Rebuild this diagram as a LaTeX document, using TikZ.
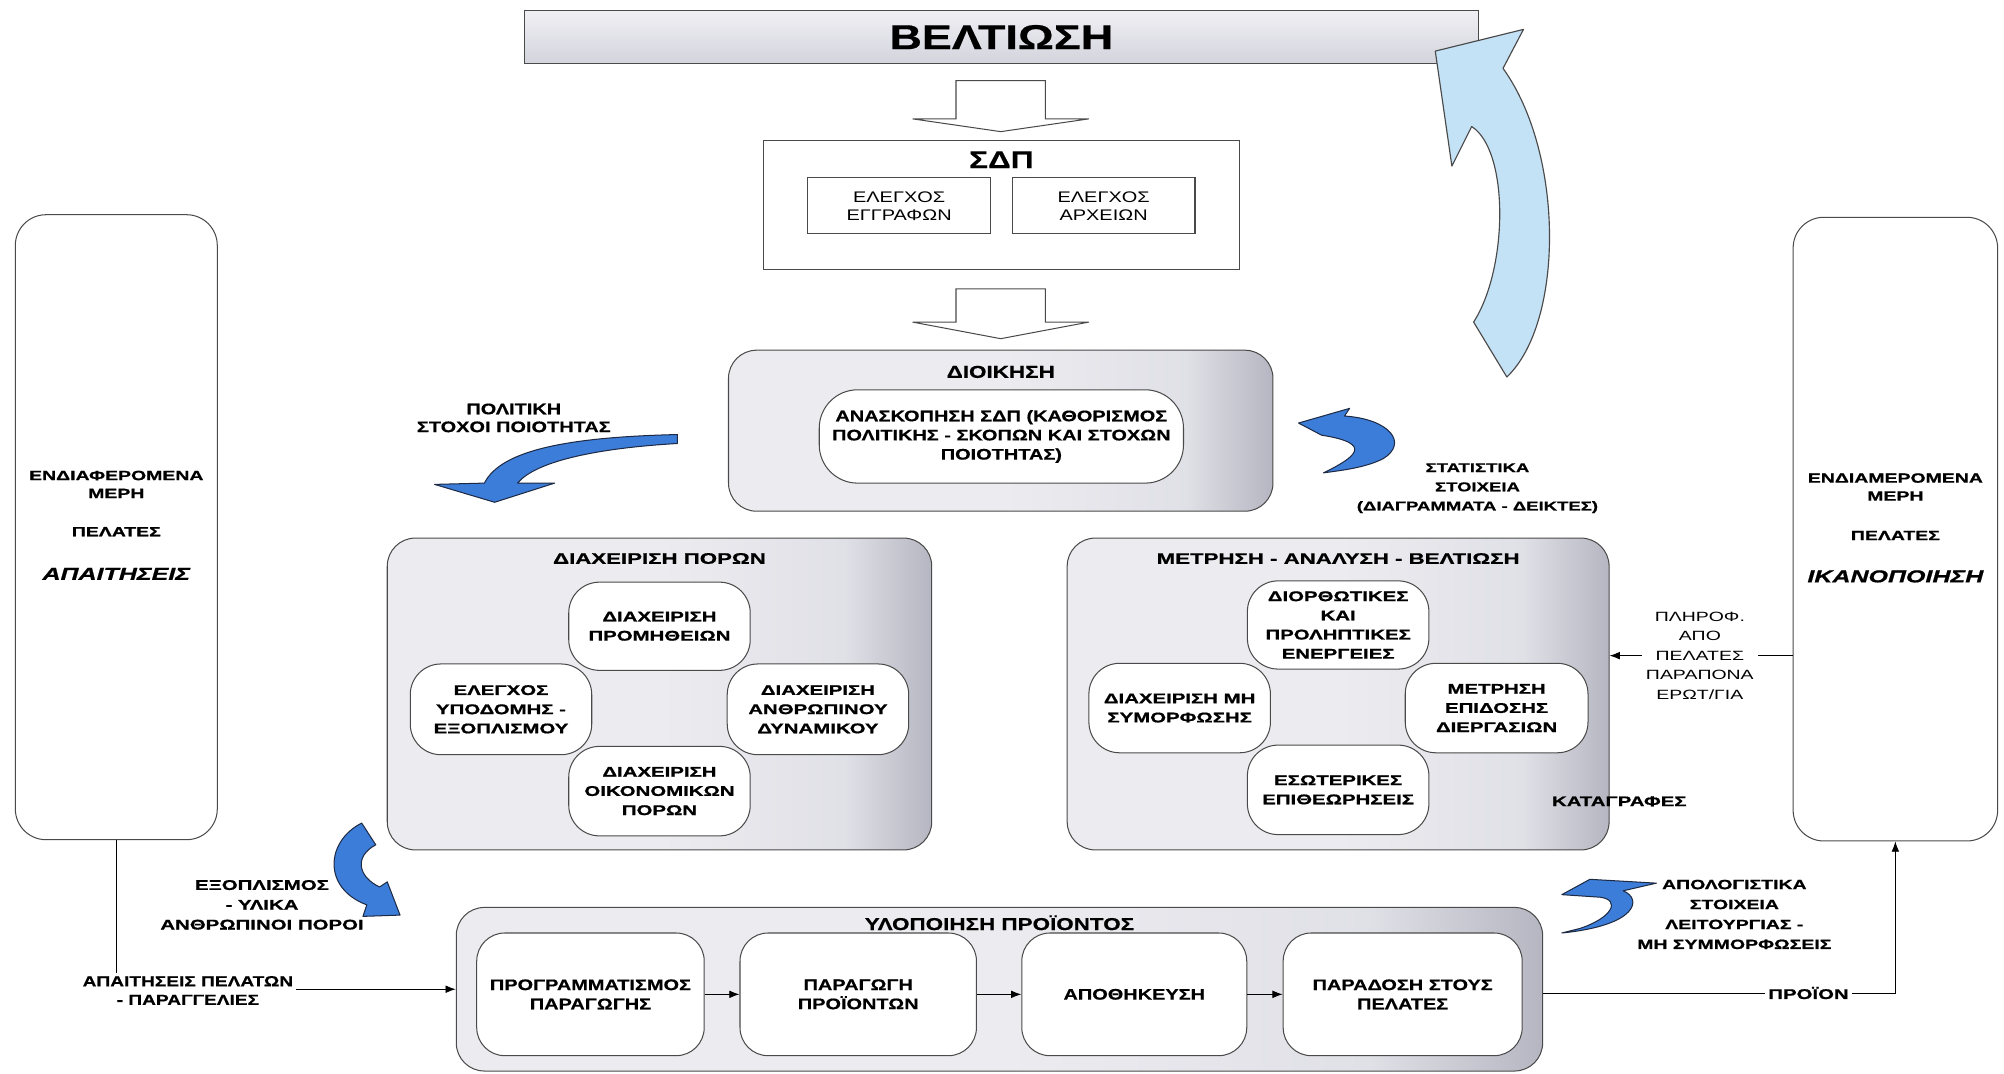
\documentclass[tikz,border=0pt]{standalone}
\usepackage{fontspec}
\setmainfont{Liberation Sans}
\newfontfamily\fnA[FakeStretch=1.3, BoldFeatures={FakeBold=0.5}]{Liberation Sans}
\newfontfamily\fnB[FakeStretch=1.45, BoldFeatures={FakeBold=0.9}, BoldItalicFeatures={FakeBold=0.9}]{Liberation Sans}
\usetikzlibrary{arrows.meta,calc}
\definecolor{edge}{HTML}{4A4A4A}
\definecolor{boxL}{HTML}{ECECF0}
\definecolor{boxM}{HTML}{E0E0E7}
\definecolor{boxR}{HTML}{B6B6C2}
\definecolor{barT}{HTML}{F0F0F4}
\definecolor{barB}{HTML}{D3D3DD}
\definecolor{blueA}{HTML}{3B7DD8}
\definecolor{blueD}{HTML}{1E2A44}
\definecolor{blueL}{HTML}{C4E2F6}
\pgfdeclarehorizontalshading{gshade}{100bp}{color(0bp)=(boxL); color(25bp)=(boxL); color(50bp)=(boxL); color(67bp)=(boxM); color(75bp)=(boxR); color(100bp)=(boxR)}
\begin{document}
\begin{tikzpicture}[x=1pt,y=-1pt,
  ln/.style={draw=edge, line width=0.8pt},
  grbox/.style={ln, rounded corners=22pt, shading=gshade},
  wbox/.style={ln, fill=white, rounded corners=24pt, align=center},
  sqbox/.style={ln, fill=white, align=center},
  fA/.style={font=\fnA\bfseries\fontsize{12}{15}\selectfont, align=center},
  fW/.style={font=\fnB\bfseries\fontsize{11}{15}\selectfont, align=center},
  fWr/.style={font=\fnB\fontsize{10.5}{15.2}\selectfont, align=center},
  conn/.style={draw=black, line width=0.7pt},
  arrowend/.style={-{Latex[length=8pt,width=6pt]}},
  bluearr/.style={draw=blueD, line width=0.8pt, fill=blueA, line join=round},
  hollow/.style={draw=edge, line width=0.8pt, fill=white, line join=miter},
]
\fill[white] (0,0) rectangle (1568,840);
\useasboundingbox (0,0) rectangle (1568,840);

% ---- top bar
\node[ln, top color=barT, bottom color=barB, minimum width=747, minimum height=42,
      font=\fnA\bfseries\fontsize{27}{30}\selectfont] (bar) at (783.5,29) {ΒΕΛΤΙΩΣΗ};

% ---- hollow arrows
\draw[hollow] (748,63) -- (818,63) -- (818,93) -- (852,93) -- (783,103) -- (714,93) -- (748,93) -- cycle;
\draw[hollow] (748,226) -- (818,226) -- (818,252) -- (852,252) -- (783,265) -- (714,252) -- (748,252) -- cycle;

% ---- SDP
\node[sqbox, minimum width=373, minimum height=101] (sdp) at (783.5,160.5) {};
\node[font=\fnA\bfseries\fontsize{19}{20}\selectfont] (sdpt) at (783.5,125) {ΣΔΠ};
\node[sqbox, minimum width=143, minimum height=44, font=\fnA\fontsize{12}{14}\selectfont] (e1) at (703.5,161) {ΕΛΕΓΧΟΣ\\ΕΓΓΡΑΦΩΝ};
\node[sqbox, minimum width=143, minimum height=44, font=\fnA\fontsize{12}{14}\selectfont] (e2) at (863.5,161) {ΕΛΕΓΧΟΣ\\ΑΡΧΕΙΩΝ};

% ---- management
\node[grbox, minimum width=426, minimum height=126] (dioik) at (783,337) {};
\node[fA, font=\fnA\bfseries\fontsize{13.5}{15}\selectfont] (dioikt) at (783,291) {ΔΙΟΙΚΗΣΗ};
\node[wbox, fA, minimum width=285, minimum height=73, rounded corners=30pt] (anask) at (783.5,341.5)
  {ΑΝΑΣΚΟΠΗΣΗ ΣΔΠ (ΚΑΘΟΡΙΣΜΟΣ\\ΠΟΛΙΤΙΚΗΣ - ΣΚΟΠΩΝ ΚΑΙ ΣΤΟΧΩΝ\\ΠΟΙΟΤΗΤΑΣ)};

% ---- resources
\node[grbox, minimum width=426, minimum height=244] (res) at (516,543) {};
\node[fW, font=\fnB\bfseries\fontsize{12}{15}\selectfont] (rest) at (516,437) {ΔΙΑΧΕΙΡΙΣΗ ΠΟΡΩΝ};
\node[wbox, fW, minimum width=142, minimum height=69] (r1) at (516,490) {ΔΙΑΧΕΙΡΙΣΗ\\ΠΡΟΜΗΘΕΙΩΝ};
\node[wbox, fW, minimum width=142, minimum height=71] (r2) at (392,555) {ΕΛΕΓΧΟΣ\\ΥΠΟΔΟΜΗΣ -\\ΕΞΟΠΛΙΣΜΟΥ};
\node[wbox, fW, minimum width=142, minimum height=71] (r3) at (640,555) {ΔΙΑΧΕΙΡΙΣΗ\\ΑΝΘΡΩΠΙΝΟΥ\\ΔΥΝΑΜΙΚΟΥ};
\node[wbox, fW, minimum width=142, minimum height=70] (r4) at (516,619) {ΔΙΑΧΕΙΡΙΣΗ\\ΟΙΚΟΝΟΜΙΚΩΝ\\ΠΟΡΩΝ};

% ---- measurement
\node[grbox, minimum width=424, minimum height=244] (meas) at (1047,543) {};
\node[fW, font=\fnB\bfseries\fontsize{12}{15}\selectfont] (meast) at (1047,437) {ΜΕΤΡΗΣΗ - ΑΝΑΛΥΣΗ - ΒΕΛΤΙΩΣΗ};
\node[wbox, fW, minimum width=142, minimum height=69] (m1) at (1047,489) {ΔΙΟΡΘΩΤΙΚΕΣ\\ΚΑΙ\\ΠΡΟΛΗΠΤΙΚΕΣ\\ΕΝΕΡΓΕΙΕΣ};
\node[wbox, fW, minimum width=142, minimum height=70] (m2) at (923,554) {ΔΙΑΧΕΙΡΙΣΗ ΜΗ\\ΣΥΜΟΡΦΩΣΗΣ};
\node[wbox, fW, minimum width=143, minimum height=70] (m3) at (1171,554) {ΜΕΤΡΗΣΗ\\ΕΠΙΔΟΣΗΣ\\ΔΙΕΡΓΑΣΙΩΝ};
\node[wbox, fW, minimum width=142, minimum height=70] (m4) at (1047,618) {ΕΣΩΤΕΡΙΚΕΣ\\ΕΠΙΘΕΩΡΗΣΕΙΣ};

% ---- production
\node[grbox, minimum width=850, minimum height=128] (prod) at (782,774) {};
\node[fA, font=\fnA\bfseries\fontsize{13.5}{15}\selectfont] (prodt) at (782,722) {ΥΛΟΠΟΙΗΣΗ ΠΡΟΪΟΝΤΟΣ};
\node[wbox, fA, minimum width=178, minimum height=96, rounded corners=22pt] (p1) at (462,778) {ΠΡΟΓΡΑΜΜΑΤΙΣΜΟΣ\\ΠΑΡΑΓΩΓΗΣ};
\node[wbox, fA, minimum width=185, minimum height=96, rounded corners=22pt] (p2) at (671.5,778) {ΠΑΡΑΓΩΓΗ\\ΠΡΟΪΟΝΤΩΝ};
\node[wbox, fA, minimum width=176, minimum height=96, rounded corners=22pt] (p3) at (887.5,778) {ΑΠΟΘΗΚΕΥΣΗ};
\node[wbox, fA, minimum width=187, minimum height=96, rounded corners=22pt] (p4) at (1097.5,778) {ΠΑΡΑΔΟΣΗ ΣΤΟΥΣ\\ΠΕΛΑΤΕΣ};

% ---- side boxes
\node[ln, fill=white, rounded corners=24pt, minimum width=158, minimum height=489] (lbox) at (91,412.5) {};
\node[fW, font=\fnB\bfseries\fontsize{10.5}{14}\selectfont] (lt1) at (91,379) {ΕΝΔΙΑΦΕΡΟΜΕΝΑ\\ΜΕΡΗ};
\node[fW, font=\fnB\bfseries\fontsize{10.5}{14}\selectfont] (lt2) at (91,416) {ΠΕΛΑΤΕΣ};
\node[font=\fnB\bfseries\itshape\fontsize{13.5}{15}\selectfont] (lt3) at (91,449) {ΑΠΑΙΤΗΣΕΙΣ};

\node[ln, fill=white, rounded corners=24pt, minimum width=160, minimum height=488] (rbox) at (1483,414) {};
\node[fW, font=\fnB\bfseries\fontsize{10.5}{14}\selectfont] (rt1) at (1483,381) {ΕΝΔΙΑΜΕΡΟΜΕΝΑ\\ΜΕΡΗ};
\node[fW, font=\fnB\bfseries\fontsize{10.5}{14}\selectfont] (rt2) at (1483,419) {ΠΕΛΑΤΕΣ};
\node[font=\fnB\bfseries\itshape\fontsize{13.5}{15}\selectfont] (rt3) at (1483,451) {ΙΚΑΝΟΠΟΙΗΣΗ};

% ---- labels
\node[fA, font=\fnA\bfseries\fontsize{12}{14}\selectfont] (pol) at (402,327) {ΠΟΛΙΤΙΚΗ\\ΣΤΟΧΟΙ ΠΟΙΟΤΗΤΑΣ};
\node[fW, font=\fnB\bfseries\fontsize{10}{15}\selectfont] (stat) at (1156,382) {ΣΤΑΤΙΣΤΙΚΑ\\ΣΤΟΙΧΕΙΑ\\(ΔΙΑΓΡΑΜΜΑΤΑ - ΔΕΙΚΤΕΣ)};
\node[fWr, fill=white, inner sep=3pt] (plir) at (1330,513) {ΠΛΗΡΟΦ.\\ΑΠΟ\\ΠΕΛΑΤΕΣ\\ΠΑΡΑΠΟΝΑ\\ΕΡΩΤ/ΓΙΑ};
\node[fW] (katag) at (1267,627) {ΚΑΤΑΓΡΑΦΕΣ};
\node[fW, font=\fnB\bfseries\fontsize{11}{15.5}\selectfont] (exop) at (205,708) {ΕΞΟΠΛΙΣΜΟΣ\\- ΥΛΙΚΑ\\ΑΝΘΡΩΠΙΝΟΙ ΠΟΡΟΙ};
\node[fA, font=\fnA\bfseries\fontsize{11.5}{14.5}\selectfont, inner sep=2pt] (apait) at (147,775) {ΑΠΑΙΤΗΣΕΙΣ ΠΕΛΑΤΩΝ\\- ΠΑΡΑΓΓΕΛΙΕΣ};
\node[fW, font=\fnB\bfseries\fontsize{10.5}{15.6}\selectfont] (apolog) at (1357,715.5) {ΑΠΟΛΟΓΙΣΤΙΚΑ\\ΣΤΟΙΧΕΙΑ\\ΛΕΙΤΟΥΡΓΙΑΣ -\\ΜΗ ΣΥΜΜΟΡΦΩΣΕΙΣ};
\node[fW, inner sep=2pt] (proion) at (1415,777) {ΠΡΟΪΟΝ};

% ---- connectors
\draw[conn] (lbox.south) -- (lbox.south |- apait.north);
\draw[conn, arrowend] (apait.east |- prod.west) -- (prod.west);
\draw[conn, arrowend] (p1.east) -- (p2.west);
\draw[conn, arrowend] (p2.east) -- (p3.west);
\draw[conn, arrowend] (p3.east) -- (p4.west);
\draw[conn] (prod.east |- proion.west) -- (proion.west);
\draw[conn, arrowend] (proion.east) -| (rbox.south);
\draw[conn] (rbox.west |- plir) -- (plir.east);
\draw[conn, arrowend] (plir.west) -- (plir.west -| meas.east);

% ---- blue curved arrows
\draw[bluearr] (530,340) .. controls (445,342) and (392,352) .. (379,378) -- (340,379) -- (387,393) -- (434,378) -- (405,378) .. controls (418,362) and (462,351) .. (530,347) -- cycle;
\draw[bluearr] (1016,331) -- (1056,319.5) -- (1052,325.5) .. controls (1088,328) and (1102,347) .. (1082,359) .. controls (1068,366) and (1050,368) .. (1035.5,370) .. controls (1060,358) and (1076,347) .. (1034,340.5) -- cycle;
\draw[bluearr] (283,644) .. controls (255,658) and (252,695) .. (287,708) -- (284,717) -- (313,716) -- (303,690) -- (297,694) .. controls (280,686) and (277,670) .. (294,661) -- cycle;
\draw[bluearr] (1222,700) -- (1244,688) -- (1296,691) -- (1270,697) .. controls (1285,703) and (1282,724) .. (1222,730) -- (1236,726.5) .. controls (1262,718) and (1268,704) .. (1252,702) -- cycle;

% ---- big light blue arrow
\draw[draw=edge, line width=0.9pt, fill=blueL, line join=round] (1123,40) -- (1192,23) -- (1176,53.5) .. controls (1224,120) and (1224,252) .. (1179,295) -- (1153,252) .. controls (1180,210) and (1181,118) .. (1151.5,99) -- (1136,130) -- cycle;
\end{tikzpicture}
\end{document}
